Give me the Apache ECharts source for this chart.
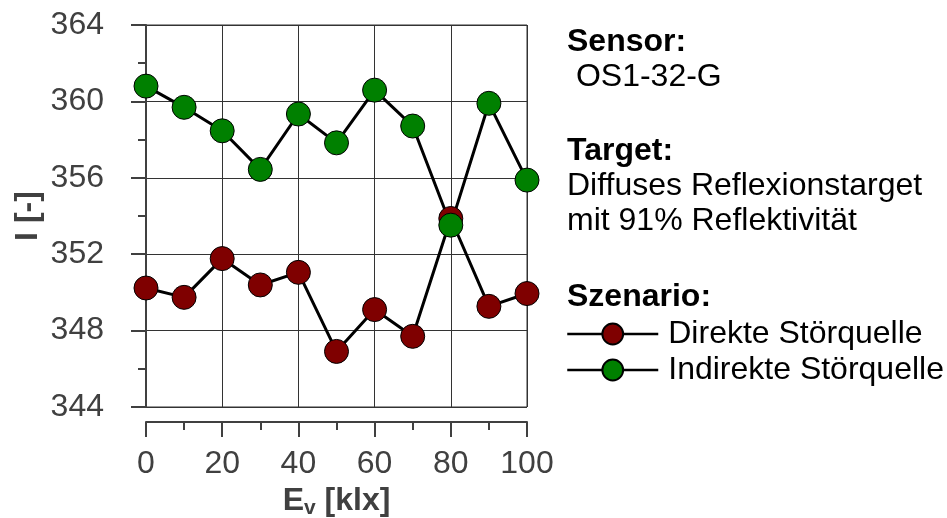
<!DOCTYPE html>
<html>
<head>
<meta charset="utf-8">
<script src="https://cdn.jsdelivr.net/npm/echarts@6/dist/echarts.min.js"></script>
<style>
  html, body { margin: 0; padding: 0; background: #fff; }
  #chart { width: 947px; height: 518px; }
</style>
</head>
<body>
<div id="chart"></div>
<script>
// Illuminance levels E_v [klx]
const illuminance = [0, 10, 20, 30, 40, 50, 60, 70, 80, 90, 100];
// Mean intensity I [-] per scenario
const direkte = [350.23, 349.74, 351.77, 350.39, 351.05, 346.91, 349.10, 347.70, 353.87, 349.27, 349.94];
const indirekte = [360.80, 359.69, 358.46, 356.44, 359.34, 357.83, 360.59, 358.71, 353.52, 359.90, 355.88];
const seriesNames = ['Direkte Störquelle', 'Indirekte Störquelle'];
const seriesColors = ['#7f0000', '#008000'];
const yTicks = { min: 344, max: 364, step: 4 };
const xTicks = { min: 0, max: 100, step: 20 };

const FONT = '"Liberation Sans", Arial, sans-serif';
const AXIS_GRAY = '#404040';

function pairs(values) {
  return illuminance.map((x, i) => [x, values[i]]);
}

function lineSeries(name, values, color) {
  return {
    name: name,
    type: 'line',
    data: pairs(values),
    symbol: 'circle',
    symbolSize: 24,
    lineStyle: { color: '#000', width: 3 },
    itemStyle: { color: color, borderColor: '#000', borderWidth: 1 },
    emphasis: { disabled: true },
    z: 3
  };
}

const chart = echarts.init(document.getElementById('chart'), null, { renderer: 'canvas' });

const infoText = (x, y, text, bold) => ({
  type: 'text',
  x: x,
  y: y,
  style: {
    text: text,
    font: (bold ? 'bold ' : '') + '32px ' + FONT,
    fill: '#000',
    verticalAlign: 'middle',
    align: 'left'
  }
});

chart.setOption({
  animation: false,
  grid: {
    left: 146, right: 420, top: 25, bottom: 111,
    outerBoundsMode: 'none',
    containLabel: false,
    show: true, borderColor: '#333', borderWidth: 1
  },
  xAxis: {
    type: 'value',
    min: xTicks.min, max: xTicks.max, interval: xTicks.step,
    offset: 15,
    name: '{n|E}{s|v}{n| [klx]}',
    nameLocation: 'middle',
    nameGap: 59,
    nameTextStyle: {
      rich: {
        n: { fontFamily: FONT, fontWeight: 'bold', fontSize: 32, color: AXIS_GRAY },
        s: { fontFamily: FONT, fontWeight: 'bold', fontSize: 21, color: AXIS_GRAY, verticalAlign: 'bottom', padding: [14, 0, 0, 0] }
      }
    },
    axisLine: { show: true, lineStyle: { color: AXIS_GRAY, width: 2 } },
    axisTick: { show: true, inside: false, length: 15, lineStyle: { color: AXIS_GRAY, width: 2 } },
    minorTick: { show: true, splitNumber: 2, length: 8, lineStyle: { color: AXIS_GRAY, width: 2 } },
    splitLine: { show: true, lineStyle: { color: '#333', width: 1 } },
    axisLabel: { fontFamily: FONT, fontSize: 32, color: AXIS_GRAY, margin: 26 }
  },
  yAxis: {
    type: 'value',
    min: yTicks.min, max: yTicks.max, interval: yTicks.step,
    offset: 15,
    name: 'I [-]',
    nameLocation: 'middle',
    nameGap: 87,
    nameTextStyle: { fontFamily: FONT, fontWeight: 'bold', fontSize: 32, color: AXIS_GRAY },
    axisLine: { show: true, lineStyle: { color: AXIS_GRAY, width: 2 } },
    axisTick: { show: true, inside: false, length: 15, lineStyle: { color: AXIS_GRAY, width: 2 } },
    minorTick: { show: true, splitNumber: 2, length: 8, lineStyle: { color: AXIS_GRAY, width: 2 } },
    splitLine: { show: true, lineStyle: { color: '#333', width: 1 } },
    axisLabel: { fontFamily: FONT, fontSize: 32, color: AXIS_GRAY, margin: 27 }
  },
  legend: {
    data: seriesNames,
    orient: 'vertical',
    left: 566,
    top: 318,
    padding: 0,
    itemWidth: 91,
    itemHeight: 26,
    itemGap: 4,
    selectedMode: false,
    lineStyle: { color: '#000', width: 2.5 },
    textStyle: { fontFamily: FONT, fontSize: 32, color: '#000', padding: [0, 0, 0, 5] }
  },
  graphic: [
    infoText(567, 42, 'Sensor:', true),
    infoText(567, 77, ' OS1-32-G', false),
    infoText(567, 151, 'Target:', true),
    infoText(567, 186, 'Diffuses Reflexionstarget', false),
    infoText(567, 221, 'mit 91% Reflektivität', false),
    infoText(567, 297, 'Szenario:', true)
  ],
  series: [
    lineSeries(seriesNames[0], direkte, seriesColors[0]),
    lineSeries(seriesNames[1], indirekte, seriesColors[1])
  ]
});
</script>
</body>
</html>
